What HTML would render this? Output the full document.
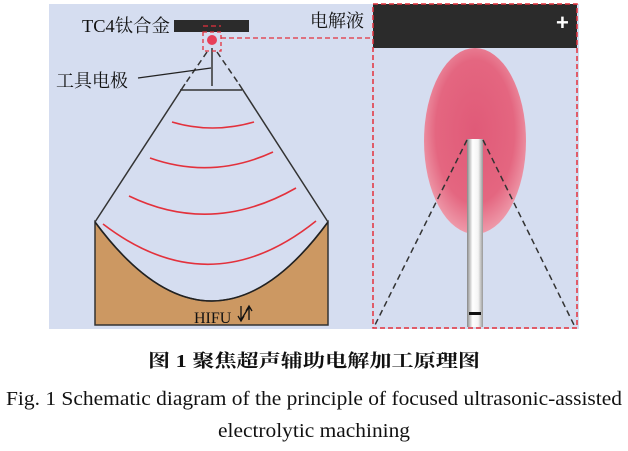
<!DOCTYPE html>
<html><head><meta charset="utf-8"><style>
body{margin:0;width:628px;height:446px;background:#fff;overflow:hidden;font-family:"Liberation Serif","Noto Serif CJK SC",serif;}
</style></head><body>
<svg width="628" height="446" viewBox="0 0 628 446" xmlns="http://www.w3.org/2000/svg">
<defs>
<radialGradient id="eg" cx="0.5" cy="0.45" r="0.55">
<stop offset="0" stop-color="#e05a78"/><stop offset="0.7" stop-color="#e46680"/><stop offset="1" stop-color="#ee9aaa"/>
</radialGradient>
<linearGradient id="tg" x1="0" x2="1">
<stop offset="0" stop-color="#888"/><stop offset="0.35" stop-color="#fff"/><stop offset="0.7" stop-color="#f4f4f4"/><stop offset="1" stop-color="#999"/>
</linearGradient>
</defs>
<rect x="49" y="4" width="530" height="325" fill="#d5ddf0"/>
<path d="M95 222 Q212 380 328 222 L328 325 L95 325 Z" fill="#cc9862" stroke="#333" stroke-width="1.5"/>
<path d="M95 222 Q212 380 328 222" fill="none" stroke="#222" stroke-width="1.5"/>
<line x1="207" y1="52" x2="185" y2="84" stroke="#333" stroke-width="1.5" stroke-dasharray="6,4"/>
<line x1="217" y1="52" x2="239" y2="84" stroke="#333" stroke-width="1.5" stroke-dasharray="6,4"/>
<line x1="185" y1="84" x2="95" y2="222" stroke="#333" stroke-width="1.5"/>
<line x1="239" y1="84" x2="328" y2="222" stroke="#333" stroke-width="1.5"/>
<line x1="180" y1="90" x2="242" y2="90" stroke="#333" stroke-width="1.5"/>
<line x1="212" y1="48" x2="212" y2="86" stroke="#333" stroke-width="1.5"/>
<line x1="138" y1="78" x2="211" y2="68" stroke="#222" stroke-width="1.3"/>
<g fill="none" stroke="#e3313c" stroke-width="1.6">
<path d="M172 122 Q212 134 254 122"/>
<path d="M150 158 Q212 180 273 152"/>
<path d="M129 196 Q212 236 296 188"/>
<path d="M103 224 Q210 306 316 221"/>
</g>
<rect x="174" y="20" width="75" height="12" fill="#2b2b2b"/>
<line x1="203" y1="26" x2="221" y2="26" stroke="#e3313c" stroke-width="1.2" stroke-dasharray="5,3"/>
<circle cx="212" cy="40" r="5" fill="#e8405a"/>
<rect x="203" y="32" width="18" height="19" fill="none" stroke="#e3313c" stroke-width="1.3" stroke-dasharray="4,3"/>
<line x1="221" y1="38" x2="373" y2="38" stroke="#e3313c" stroke-width="1.3" stroke-dasharray="5,3"/>
<text x="82" y="32" font-size="18" fill="#111" textLength="88" lengthAdjust="spacingAndGlyphs">TC4钛合金</text>
<text x="56" y="87" font-size="18" fill="#111" textLength="72" lengthAdjust="spacingAndGlyphs">工具电极</text>
<text x="310" y="27" font-size="18" fill="#111" textLength="54" lengthAdjust="spacingAndGlyphs">电解液</text>
<text x="194" y="323" font-size="16" fill="#111">HIFU</text>
<path d="M241 306 L241 320 M238 316 L241 321 L244 316 M241 320 L249 307 M249 307 L249 320 M246 311 L249 306 L252 311" stroke="#111" stroke-width="1.3" fill="none"/>
<rect x="373" y="4" width="204" height="44" fill="#2b2b2b"/>
<text x="556" y="30" font-size="22" font-weight="bold" fill="#fff" font-family="Liberation Sans,sans-serif">+</text>
<ellipse cx="475" cy="141" rx="51" ry="93" fill="url(#eg)"/>
<rect x="467" y="139" width="16" height="188" fill="url(#tg)"/>
<rect x="469" y="312" width="12" height="3" fill="#111"/>
<line x1="467" y1="140" x2="374" y2="327" stroke="#333" stroke-width="1.5" stroke-dasharray="6,4"/>
<line x1="483" y1="140" x2="575" y2="327" stroke="#333" stroke-width="1.5" stroke-dasharray="6,4"/>
<rect x="373" y="4" width="204" height="324" fill="none" stroke="#e3313c" stroke-width="1.5" stroke-dasharray="5,3"/>
<text x="148" y="367" font-size="18" font-weight="bold" fill="#111" textLength="332" lengthAdjust="spacingAndGlyphs" font-family="Liberation Serif,Noto Serif CJK SC,serif">图 1  聚焦超声辅助电解加工原理图</text>
<text x="6" y="405" font-size="20" fill="#111" textLength="616" lengthAdjust="spacingAndGlyphs">Fig. 1  Schematic diagram of the principle of focused ultrasonic-assisted</text>
<text x="218" y="437" font-size="20" fill="#111" textLength="192" lengthAdjust="spacingAndGlyphs">electrolytic machining</text>
</svg>
</body></html>
